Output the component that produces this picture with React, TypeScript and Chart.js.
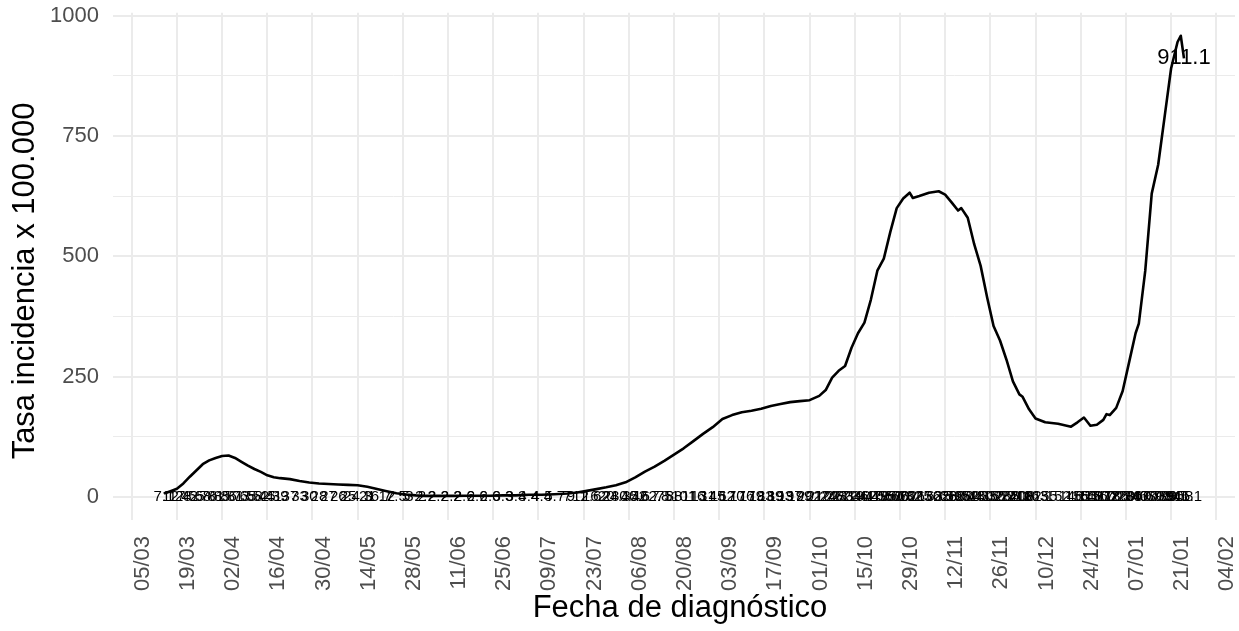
import React, { useEffect, useRef } from "react";
import { Chart, registerables } from "chart.js";

Chart.register(...registerables);

const FONT = '"Liberation Sans", Arial, Helvetica, sans-serif';

// Fecha de diagnóstico (ISO) and tasa de incidencia x 100.000
const dates: string[] = [
  "2020-03-15", "2020-03-17", "2020-03-19", "2020-03-21", "2020-03-23", "2020-03-25", "2020-03-27", "2020-03-29",
  "2020-03-31", "2020-04-02", "2020-04-04", "2020-04-06", "2020-04-08", "2020-04-10", "2020-04-12", "2020-04-14",
  "2020-04-16", "2020-04-18", "2020-04-20", "2020-04-23", "2020-04-26", "2020-04-29", "2020-05-02", "2020-05-05",
  "2020-05-08", "2020-05-11", "2020-05-14", "2020-05-17", "2020-05-20", "2020-05-23", "2020-05-26", "2020-05-29",
  "2020-06-01", "2020-06-04", "2020-06-08", "2020-06-12", "2020-06-16", "2020-06-20", "2020-06-24", "2020-06-28",
  "2020-07-02", "2020-07-06", "2020-07-10", "2020-07-14", "2020-07-18", "2020-07-21", "2020-07-24", "2020-07-27",
  "2020-07-30", "2020-08-02", "2020-08-05", "2020-08-08", "2020-08-11", "2020-08-14", "2020-08-17", "2020-08-20",
  "2020-08-23", "2020-08-26", "2020-08-29", "2020-09-01", "2020-09-04", "2020-09-07", "2020-09-10", "2020-09-13",
  "2020-09-16", "2020-09-19", "2020-09-22", "2020-09-25", "2020-09-28", "2020-10-01", "2020-10-04", "2020-10-06",
  "2020-10-08", "2020-10-10", "2020-10-12", "2020-10-14", "2020-10-16", "2020-10-18", "2020-10-20", "2020-10-22",
  "2020-10-24", "2020-10-26", "2020-10-28", "2020-10-30", "2020-11-01", "2020-11-02", "2020-11-04", "2020-11-07",
  "2020-11-10", "2020-11-12", "2020-11-14", "2020-11-16", "2020-11-17", "2020-11-19", "2020-11-21", "2020-11-23",
  "2020-11-25", "2020-11-27", "2020-11-29", "2020-12-01", "2020-12-03", "2020-12-05", "2020-12-06", "2020-12-08",
  "2020-12-10", "2020-12-13", "2020-12-17", "2020-12-21", "2020-12-23", "2020-12-25", "2020-12-27", "2020-12-29",
  "2020-12-31", "2021-01-01", "2021-01-02", "2021-01-04", "2021-01-06", "2021-01-08", "2021-01-10", "2021-01-11",
  "2021-01-13", "2021-01-15", "2021-01-17", "2021-01-19", "2021-01-21", "2021-01-23", "2021-01-24", "2021-01-25",
];

const values: number[] = [
  7.1, 12, 17, 28, 42, 55, 68, 76,
  81, 85, 86, 81, 73, 65, 58, 52,
  45, 41, 39, 37, 33, 30, 28, 27,
  26, 25, 24.3, 21, 16.7, 12, 7.5, 5,
  3.2, 2.2, 2.2, 2.2, 2.6, 2.6, 2.6, 3.3,
  3.3, 4.4, 4.4, 5.7, 7, 9.1, 12.6, 16.2,
  20, 24.3, 30.4, 40.6, 52.7, 62.8, 75, 88,
  101, 116, 131, 145, 162, 170, 176, 179,
  183, 189, 193, 197, 199, 201, 210, 222,
  248, 262, 272, 310, 340, 362, 410, 470,
  495, 550, 600, 620, 632, 621, 625, 632,
  635, 628, 612, 595, 600, 580, 525, 480,
  415, 355, 325, 285, 240, 213, 208, 182,
  163, 155, 152, 146, 155, 165, 148, 150,
  160, 172, 170, 185, 220, 280, 340, 360,
  470, 630, 690, 790, 890, 945, 958, 911.1,
];

const xTickDates: string[] = [
  "2020-03-05", "2020-03-19", "2020-04-02", "2020-04-16", "2020-04-30", "2020-05-14", "2020-05-28",
  "2020-06-11", "2020-06-25", "2020-07-09", "2020-07-23", "2020-08-06", "2020-08-20", "2020-09-03",
  "2020-09-17", "2020-10-01", "2020-10-15", "2020-10-29", "2020-11-12", "2020-11-26", "2020-12-10",
  "2020-12-24", "2021-01-07", "2021-01-21", "2021-02-04",
];
const xTickLabels: string[] = [
  "05/03", "19/03", "02/04", "16/04", "30/04", "14/05", "28/05",
  "11/06", "25/06", "09/07", "23/07", "06/08", "20/08", "03/09",
  "17/09", "01/10", "15/10", "29/10", "12/11", "26/11", "10/12",
  "24/12", "07/01", "21/01", "04/02",
];

const yMajorTicks: number[] = [0, 250, 500, 750, 1000];
const yMinorTicks: number[] = [125, 375, 625, 875];

const xTitle = "Fecha de diagnóstico";
const yTitle = "Tasa incidencia x 100.000";

const ORIGIN = Date.UTC(2020, 2, 5);
function dayOf(iso: string): number {
  const [y, m, d] = iso.split("-").map(Number);
  return (Date.UTC(y, m - 1, d) - ORIGIN) / 86400000;
}
function fmt(v: number): string {
  return String(Math.round(v * 10) / 10);
}

export default function App() {
  const canvasRef = useRef<HTMLCanvasElement | null>(null);

  useEffect(() => {
    const canvas = canvasRef.current;
    if (!canvas) return;

    const days = dates.map(dayOf);
    const tickDays = xTickDates.map(dayOf);
    const dMin = Math.min(...days);
    const dMax = Math.max(...days);
    const xPad = (dMax - dMin) * 0.05;
    const vMax = Math.max(...values);
    const yPad = vMax * 0.05;
    const points = days.map((d, i) => ({ x: d, y: values[i] }));

    const annotate = {
      id: "annotate",
      afterDatasetsDraw(chart: any) {
        const { ctx } = chart;
        const xs = chart.scales.x;
        const ys = chart.scales.y;
        ctx.save();
        ctx.fillStyle = "#000000";
        ctx.textAlign = "center";
        ctx.textBaseline = "middle";
        ctx.font = `15px ${FONT}`;
        const y0 = ys.getPixelForValue(0);
        days.forEach((d, i) => {
          ctx.fillText(fmt(values[i]), xs.getPixelForValue(d), y0);
        });
        const li = values.length - 1;
        ctx.font = `22px ${FONT}`;
        ctx.fillText(fmt(values[li]), xs.getPixelForValue(days[li]), ys.getPixelForValue(values[li]));
        ctx.restore();
      },
      afterDraw(chart: any) {
        const { ctx, chartArea } = chart;
        ctx.save();
        ctx.fillStyle = "#000000";
        ctx.font = `31px ${FONT}`;
        ctx.textAlign = "center";
        ctx.textBaseline = "alphabetic";
        ctx.fillText(xTitle, (chartArea.left + chartArea.right) / 2 + 6, 617);
        ctx.translate(34, 281);
        ctx.rotate(-Math.PI / 2);
        ctx.fillText(yTitle, 0, 0);
        ctx.restore();
      },
    };

    const chart = new Chart(canvas, {
      type: "line",
      data: {
        datasets: [
          {
            data: points,
            borderColor: "#000000",
            borderWidth: 2.6,
            pointRadius: 0,
            tension: 0,
            fill: false,
            borderJoinStyle: "round",
          },
        ],
      },
      options: {
        responsive: false,
        devicePixelRatio: 1,
        animation: false,
        parsing: false as any,
        layout: { padding: { top: 12.7, right: 4, bottom: 0, left: 0 } },
        plugins: {
          legend: { display: false },
          tooltip: { enabled: false },
          title: { display: false },
        },
        scales: {
          x: {
            type: "linear",
            min: dMin - xPad,
            max: dMax + xPad,
            afterBuildTicks: (scale: any) => {
              scale.ticks = tickDays.map((v) => ({ value: v }));
            },
            afterFit: (scale: any) => {
              scale.height = 111;
              scale.paddingLeft = 0;
              scale.paddingRight = 0;
            },
            border: { display: false },
            grid: { color: "#EBEBEB", lineWidth: 2, drawTicks: false },
            ticks: {
              autoSkip: false,
              maxRotation: 90,
              minRotation: 90,
              padding: 16,
              labelOffset: 11,
              color: "#4D4D4D",
              font: { family: FONT, size: 22 },
              callback: (_v: any, i: number) => xTickLabels[i],
            },
          },
          y: {
            type: "linear",
            min: -yPad,
            max: vMax + yPad,
            afterBuildTicks: (scale: any) => {
              scale.ticks = [...yMajorTicks, ...yMinorTicks]
                .sort((a, b) => a - b)
                .map((v) => ({ value: v }));
            },
            afterFit: (scale: any) => {
              scale.width = 113;
              scale.paddingTop = 0;
              scale.paddingBottom = 0;
            },
            border: { display: false },
            grid: {
              color: "#EBEBEB",
              lineWidth: (ctx: any) => (yMajorTicks.includes(ctx.tick?.value) ? 2 : 1),
              drawTicks: false,
            },
            ticks: {
              autoSkip: false,
              padding: 14,
              color: "#4D4D4D",
              font: { family: FONT, size: 22 },
              callback: (v: any) => (yMajorTicks.includes(Number(v)) ? String(v) : ""),
            },
          },
        },
      },
      plugins: [annotate],
    } as any);

    return () => chart.destroy();
  }, []);

  return (
    <div style={{ position: "fixed", left: 0, top: 0, width: 1239, height: 631, background: "#ffffff" }}>
      <canvas ref={canvasRef} width={1239} height={631} style={{ display: "block" }} />
    </div>
  );
}
